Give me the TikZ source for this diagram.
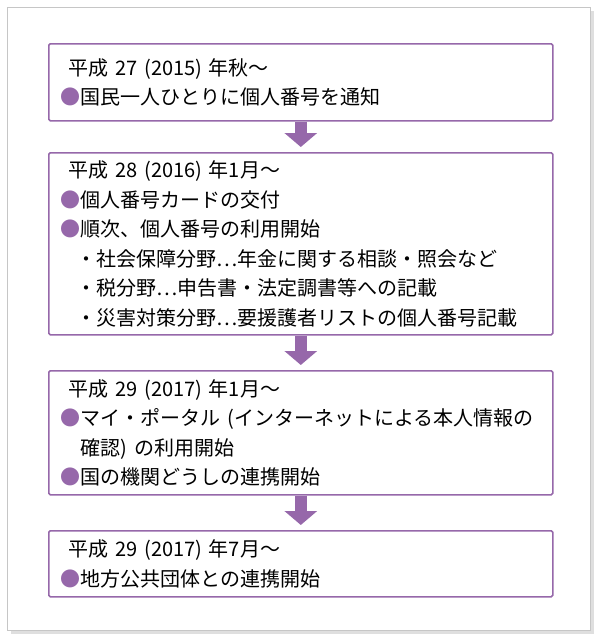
\documentclass[tikz,border=0pt]{standalone}
\usepackage{fontspec}
\setmainfont{Noto Sans CJK JP}
\usetikzlibrary{arrows.meta}
\definecolor{plum}{RGB}{150,104,170}
\newcommand{\pt}{{\color{plum}●}}
\newcommand{\sub}{\hspace*{0.8em}・}
\tikzset{
  stage/.style={draw=plum, line width=1.6pt, rounded corners=1.5pt, anchor=north west,
    minimum width=504pt, text width=480pt, inner xsep=12pt, inner ysep=6pt, align=left,
    font=\fontsize{20pt}{29.5pt}\selectfont},
  flow/.style={draw=plum, line width=12pt, -{Triangle[width=32pt,length=14pt]}, shorten >=5pt}
}
\begin{document}
\begin{tikzpicture}[x=1pt,y=-1pt]
  \useasboundingbox (0,0) rectangle (600,640);
  \fill[gray!25] (11,11) rectangle (594,634);
  \draw[gray!45,fill=white,line width=0.8pt] (7,7) rectangle (590,630);
  \node[stage, minimum height=77pt] at (48,43) (S1) {\hspace*{0.4em}平成 27 (2015) 年秋～\\\pt 国民一人ひとりに個人番号を通知};
  \node[stage, minimum height=182pt] at (48,152) (S2) {\hspace*{0.4em}平成 28 (2016) 年1月～\\\pt 個人番号カードの交付\\\pt 順次、個人番号の利用開始\\\sub 社会保障分野…年金に関する相談・照会など\\\sub 税分野…申告書・法定調書等への記載\\\sub 災害対策分野…要援護者リストの個人番号記載};
  \node[stage, minimum height=124pt] at (48,370) (S3) {\hspace*{0.4em}平成 29 (2017) 年1月～\\\pt マイ・ポータル (インターネットによる本人情報の\\\hspace*{1em}確認) の利用開始\\\pt 国の機関どうしの連携開始};
  \node[stage, minimum height=66pt] at (48,530) (S4) {\hspace*{0.4em}平成 29 (2017) 年7月～\\\pt 地方公共団体との連携開始};
  \draw[flow] (S1.south) -- (S2.north);
  \draw[flow] (S2.south) -- (S3.north);
  \draw[flow] (S3.south) -- (S4.north);
\end{tikzpicture}
\end{document}
